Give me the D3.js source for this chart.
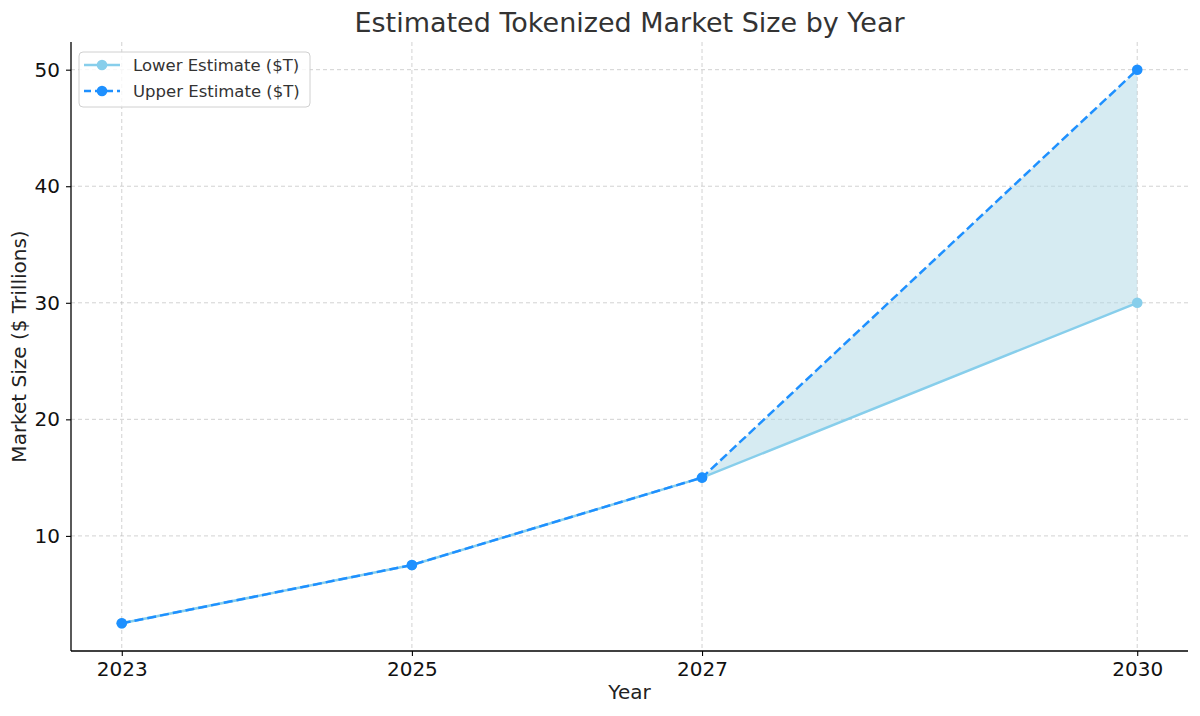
<!DOCTYPE html>
<html><head><meta charset="utf-8">
<script src="https://cdn.jsdelivr.net/npm/d3@7"></script>
<style>body{margin:0;background:#fff}svg{display:block;font-family:"DejaVu Sans",sans-serif}</style>
</head><body><svg id="c" width="1200" height="716"></svg>
<script>
const years = [2023, 2025, 2027, 2030];
const lowerEstimate = [2.5, 7.5, 15, 30];
const upperEstimate = [2.5, 7.5, 15, 50];
const yTicks = [10, 20, 30, 40, 50];
const title = "Estimated Tokenized Market Size by Year";

const svg = d3.select("#c");
const L = 71, R = 1188, T = 42, B = 651;
const x = d3.scaleLinear().domain([2022.65, 2030.35]).range([L, R]);
const y = d3.scaleLinear().domain([0.125, 52.375]).range([B, T]);

// grid
svg.append("g").selectAll("line").data(years).join("line")
  .attr("x1", d => x(d)).attr("x2", d => x(d)).attr("y1", T).attr("y2", B)
  .attr("stroke", "#b0b0b0").attr("stroke-width", 0.8).attr("stroke-dasharray", "4,3").attr("opacity", 0.7);
svg.append("g").selectAll("line").data(yTicks).join("line")
  .attr("x1", L).attr("x2", R).attr("y1", d => y(d)).attr("y2", d => y(d))
  .attr("stroke", "#b0b0b0").attr("stroke-width", 0.8).attr("stroke-dasharray", "4,3").attr("opacity", 0.7);

const pts = years.map((yr, i) => ({yr, lo: lowerEstimate[i], hi: upperEstimate[i]}));
// fill
svg.append("path").datum(pts)
  .attr("d", d3.area().x(d => x(d.yr)).y0(d => y(d.lo)).y1(d => y(d.hi)))
  .attr("fill", "#add8e6").attr("opacity", 0.5);

// lower
svg.append("path").datum(pts)
  .attr("d", d3.line().x(d => x(d.yr)).y(d => y(d.lo)))
  .attr("fill", "none").attr("stroke", "#87ceeb").attr("stroke-width", 2.5);
svg.append("g").selectAll("circle").data(pts).join("circle")
  .attr("cx", d => x(d.yr)).attr("cy", d => y(d.lo)).attr("r", 5.3).attr("fill", "#87ceeb");
// upper
svg.append("path").datum(pts)
  .attr("d", d3.line().x(d => x(d.yr)).y(d => y(d.hi)))
  .attr("fill", "none").attr("stroke", "#1e90ff").attr("stroke-width", 2.5).attr("stroke-dasharray", "9,4");
svg.append("g").selectAll("circle").data(pts).join("circle")
  .attr("cx", d => x(d.yr)).attr("cy", d => y(d.hi)).attr("r", 5.3).attr("fill", "#1e90ff");

// axes
const xa = svg.append("g").attr("transform", `translate(0,${B})`)
  .call(d3.axisBottom(x).tickValues(years).tickFormat(d3.format("d")).tickSize(5).tickPadding(6));
const ya = svg.append("g").attr("transform", `translate(${L},0)`)
  .call(d3.axisLeft(y).tickValues(yTicks).tickSize(5).tickPadding(6));
[xa, ya].forEach(a => {
  a.select(".domain").attr("stroke", "#000").attr("stroke-width", 1.3);
  a.selectAll(".tick line").attr("stroke", "#000").attr("stroke-width", 1.1);
  a.selectAll(".tick text").attr("font-size", 20).attr("fill", "#111").attr("font-family", "DejaVu Sans");
});
xa.select(".domain").attr("d", `M${L},0H${R}`);
ya.select(".domain").attr("d", `M0,${T}V${B}`);

svg.append("text").attr("x", (L + R) / 2).attr("y", 699).attr("text-anchor", "middle")
  .attr("font-size", 20).attr("fill", "#222").text("Year");
svg.append("text").attr("transform", `translate(26,${(T + B) / 2}) rotate(-90)`).attr("text-anchor", "middle")
  .attr("font-size", 20).attr("fill", "#222").text("Market Size ($ Trillions)");
svg.append("text").attr("x", (L + R) / 2).attr("y", 32).attr("text-anchor", "middle")
  .attr("font-size", 27).attr("fill", "#333").text(title);

// legend
const lg = svg.append("g").attr("transform", "translate(79,52)");
lg.append("rect").attr("width", 231).attr("height", 55).attr("rx", 4)
  .attr("fill", "#fff").attr("fill-opacity", 0.8).attr("stroke", "#d0d0d0");
const items = [
  {label: "Lower Estimate ($T)", color: "#87ceeb", dash: null},
  {label: "Upper Estimate ($T)", color: "#1e90ff", dash: "7,4"}
];
items.forEach((it, i) => {
  const yy = 13 + i * 26;
  lg.append("line").attr("x1", 5).attr("x2", 41).attr("y1", yy).attr("y2", yy)
    .attr("stroke", it.color).attr("stroke-width", 2.5).attr("stroke-dasharray", it.dash);
  lg.append("circle").attr("cx", 23).attr("cy", yy).attr("r", 5.3).attr("fill", it.color);
  lg.append("text").attr("x", 54).attr("y", yy + 5.5).attr("font-size", 16.5).attr("fill", "#333").text(it.label);
});
</script></body></html>
